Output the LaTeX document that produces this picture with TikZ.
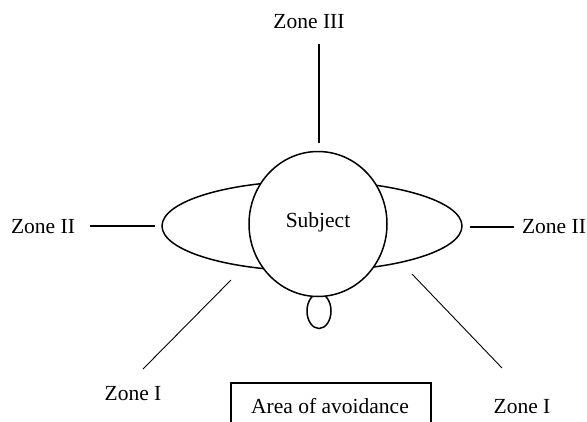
\documentclass[tikz,border=0pt]{standalone}
\usepackage{fontspec}
\setmainfont{Liberation Serif}
\usetikzlibrary{shapes.geometric}
\begin{document}
\begin{tikzpicture}[x=1pt,y=-1pt,
  lbl/.style={inner sep=0pt,font=\fontsize{21.5}{25}\selectfont},
  shapeline/.style={draw,line width=1.5pt},
  heavy/.style={line width=2.6pt},
  light/.style={line width=0.9pt}]
\useasboundingbox (0,0) rectangle (587,421);
% shapes
\node[ellipse,shapeline,minimum width=300pt,minimum height=90pt,inner sep=0pt] (zone) at (312,226) {};
\node[ellipse,shapeline,minimum width=24pt,minimum height=35pt,inner sep=0pt] (oval) at (319,311) {};
\node[ellipse,shapeline,fill=white,minimum width=138pt,minimum height=145pt,inner sep=0pt] (subj) at (318,224) {};
\node[lbl] (subjt) at (318,222) {Subject};
% labels
\node[lbl] (z3) at (309,22) {Zone III};
\node[lbl] (z2l) at (43,227) {Zone II};
\node[lbl] (z2r) at (554,227) {Zone II};
\node[lbl] (z1l) at (133,394) {Zone I};
\node[lbl] (z1r) at (522,407) {Zone I};
\node[draw,line width=1.5pt,minimum width=200pt,minimum height=80pt,inner sep=0pt,anchor=north west] (box) at (230,382) {};
\node[lbl] (boxt) at (330,406) {Area of avoidance};
% connector end points
\coordinate (a1) at (319,44);
\coordinate (a2) at (319,143);
\coordinate (b1) at (90,226);
\coordinate (b2) at (155,226);
\coordinate (c1) at (470,227);
\coordinate (c2) at (514,227);
\coordinate (d1) at (231,280);
\coordinate (d2) at (143,369);
\coordinate (e1) at (412,274);
\coordinate (e2) at (502,368);
\draw[heavy] (a1) -- (a2);
\draw[heavy] (b1) -- (b2);
\draw[heavy] (c1) -- (c2);
\draw[light] (d1) -- (d2);
\draw[light] (e1) -- (e2);
\end{tikzpicture}
\end{document}
